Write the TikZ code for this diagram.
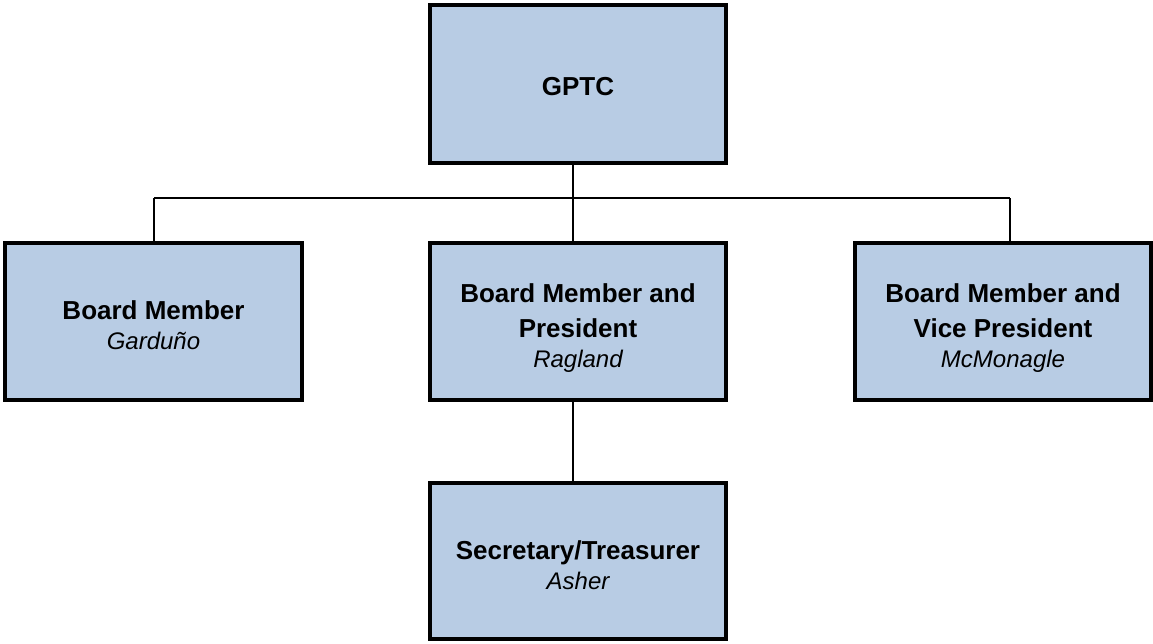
\documentclass[tikz,border=0pt]{standalone}
\usepackage{fontspec}
\setmainfont{Liberation Sans}
\definecolor{boxfill}{HTML}{B8CCE4}
\tikzset{
  orgbox/.style={draw=black, line width=4pt, fill=boxfill, inner sep=0pt,
    minimum width=296pt, minimum height=157pt},
  boxtext/.style={inner sep=0pt, align=center,
    font=\fontsize{26}{35}\selectfont\bfseries},
  link/.style={draw=black, line width=1.3pt},
}
\newcommand{\who}[1]{\\[-5pt]{\mdseries\itshape\fontsize{24}{30}\selectfont #1}}
\begin{document}
\begin{tikzpicture}[x=1pt, y=-1pt]
  \useasboundingbox (0,0) rectangle (1153,643);

  % boxes
  \node[orgbox, minimum height=158pt] (gptc) at (578,84) {};
  \node[orgbox, minimum width=297pt] (board) at (153.5,321.5) {};
  \node[orgbox] (pres) at (578,321.5) {};
  \node[orgbox] (vp) at (1003,321.5) {};
  \node[orgbox, minimum height=156pt] (sec) at (578,561) {};

  % box captions
  \node[boxtext] (gptcT) at ([yshift=-3pt]gptc.center) {GPTC};
  \node[boxtext] (boardT) at ([yshift=-4pt]board.center) {Board Member\who{Garduño}};
  \node[boxtext] (presT) at ([yshift=-7pt]pres.center) {Board Member and\\President\who{Ragland}};
  \node[boxtext] (vpT) at ([yshift=-7pt]vp.center) {Board Member and\\Vice President\who{McMonagle}};
  \node[boxtext] (secT) at ([yshift=-4pt]sec.center) {Secretary/Treasurer\who{Asher}};

  % connector bus
  \coordinate (busL) at (154,198);
  \coordinate (busC) at (573,198);
  \coordinate (busR) at (1010,198);

  \draw[link] (gptc.south -| busC) -- (pres.north -| busC);
  \draw[link] (busL) -- (busR);
  \draw[link] (busL) -- (board.north -| busL);
  \draw[link] (busR) -- (vp.north -| busR);
  \draw[link] (pres.south -| busC) -- (sec.north -| busC);
\end{tikzpicture}
\end{document}
